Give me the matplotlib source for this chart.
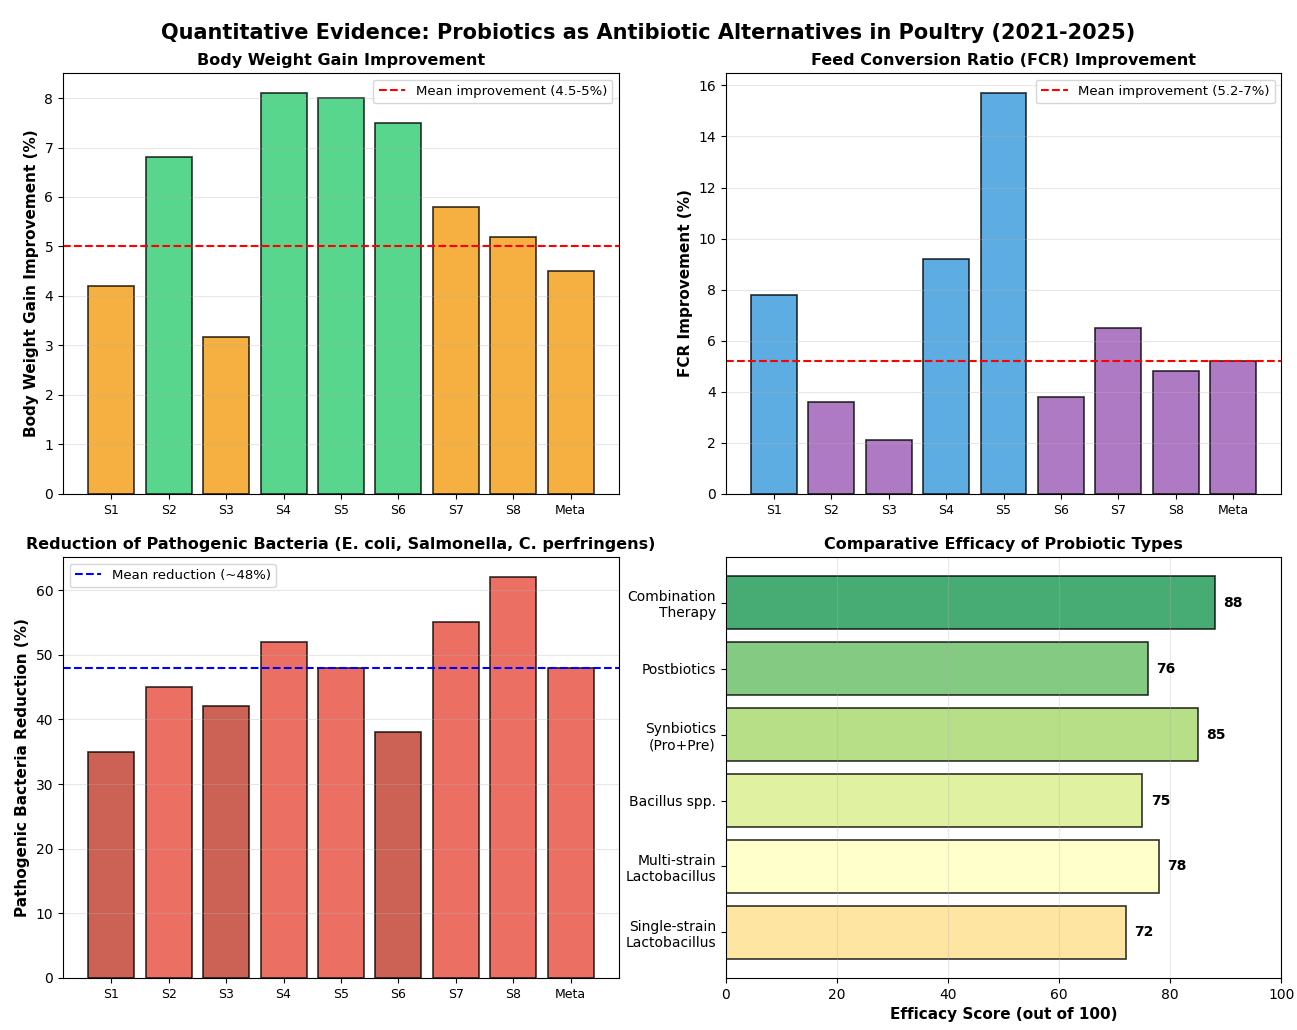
import numpy as np
import matplotlib
matplotlib.use("Agg")
from matplotlib import pyplot as plt

studies = ['S1', 'S2', 'S3', 'S4', 'S5', 'S6', 'S7', 'S8', 'Meta']

bwg = [4.2, 6.8, 3.17, 8.1, 8.0, 7.5, 5.8, 5.2, 4.5]
bwg_colors = ['#f39c12', '#2ecc71', '#f39c12', '#2ecc71', '#2ecc71', '#2ecc71', '#f39c12', '#f39c12', '#f39c12']
bwg_mean = 5.0

fcr = [7.8, 3.6, 2.1, 9.2, 15.7, 3.8, 6.5, 4.8, 5.2]
fcr_colors = ['#3498db', '#9b59b6', '#9b59b6', '#3498db', '#3498db', '#9b59b6', '#9b59b6', '#9b59b6', '#9b59b6']
fcr_mean = 5.2

patho = [35, 45, 42, 52, 48, 38, 55, 62, 48]
patho_colors = ['#c0392b', '#e74c3c', '#c0392b', '#e74c3c', '#e74c3c', '#c0392b', '#e74c3c', '#e74c3c', '#e74c3c']
patho_mean = 48

types = ['Single-strain\nLactobacillus', 'Multi-strain\nLactobacillus', 'Bacillus spp.',
         'Synbiotics\n(Pro+Pre)', 'Postbiotics', 'Combination\nTherapy']
scores = [72, 78, 75, 85, 76, 88]

fig, axes = plt.subplots(2, 2, figsize=(12.97, 10.30), dpi=100)
plt.subplots_adjust(left=0.0486, right=0.988, top=0.9291, bottom=0.0505, wspace=0.192, hspace=0.15)
fig.suptitle('Quantitative Evidence: Probiotics as Antibiotic Alternatives in Poultry (2021-2025)',
             fontsize=15, fontweight='bold', y=0.978)

x = np.arange(len(studies))

# body weight gain
ax = axes[0, 0]
ax.bar(x, bwg, color=bwg_colors, alpha=0.8, edgecolor='black', linewidth=1.2)
ax.axhline(bwg_mean, color='red', linestyle='--', linewidth=1.5, label='Mean improvement (4.5-5%)')
ax.set_xticks(x)
ax.set_xticklabels(studies, fontsize=9)
ax.set_ylabel('Body Weight Gain Improvement (%)', fontsize=11, fontweight='bold')
ax.set_title('Body Weight Gain Improvement', fontsize=11.5, fontweight='bold')
ax.set_ylim(0, max(bwg) * 1.05)
ax.legend(loc='upper right', fontsize=9.5)
ax.grid(axis='y', alpha=0.3)

# FCR
ax = axes[0, 1]
ax.bar(x, fcr, color=fcr_colors, alpha=0.8, edgecolor='black', linewidth=1.2)
ax.axhline(fcr_mean, color='red', linestyle='--', linewidth=1.5, label='Mean improvement (5.2-7%)')
ax.set_xticks(x)
ax.set_xticklabels(studies, fontsize=9)
ax.set_ylabel('FCR Improvement (%)', fontsize=11, fontweight='bold')
ax.set_title('Feed Conversion Ratio (FCR) Improvement', fontsize=11.5, fontweight='bold')
ax.set_ylim(0, max(fcr) * 1.05)
ax.legend(loc='upper right', fontsize=9.5)
ax.grid(axis='y', alpha=0.3)

# pathogen reduction
ax = axes[1, 0]
ax.bar(x, patho, color=patho_colors, alpha=0.8, edgecolor='black', linewidth=1.2)
ax.axhline(patho_mean, color='blue', linestyle='--', linewidth=1.5, label='Mean reduction (~48%)')
ax.set_xticks(x)
ax.set_xticklabels(studies, fontsize=9)
ax.set_ylabel('Pathogenic Bacteria Reduction (%)', fontsize=11, fontweight='bold')
ax.set_title('Reduction of Pathogenic Bacteria (E. coli, Salmonella, C. perfringens)', fontsize=11.5, fontweight='bold')
ax.set_ylim(0, max(patho) * 1.05)
ax.legend(loc='upper left', fontsize=9.5)
ax.grid(axis='y', alpha=0.3)

# efficacy
ax = axes[1, 1]
cols = plt.cm.RdYlGn(np.linspace(0.4, 0.9, len(types)))
y = np.arange(len(types))
ax.barh(y, scores, color=cols, alpha=0.8, edgecolor='black', linewidth=1.2, height=0.8)
for yi, s in zip(y, scores):
    ax.text(s + 1.5, yi, str(s), va='center', fontsize=10, fontweight='bold')
ax.set_yticks(y)
ax.set_yticklabels(types, fontsize=10)
ax.set_xlim(0, 100)
ax.set_xlabel('Efficacy Score (out of 100)', fontsize=11, fontweight='bold')
ax.set_title('Comparative Efficacy of Probiotic Types', fontsize=11.5, fontweight='bold')
ax.grid(axis='x', alpha=0.3)

plt.savefig('out.png', dpi=100)
